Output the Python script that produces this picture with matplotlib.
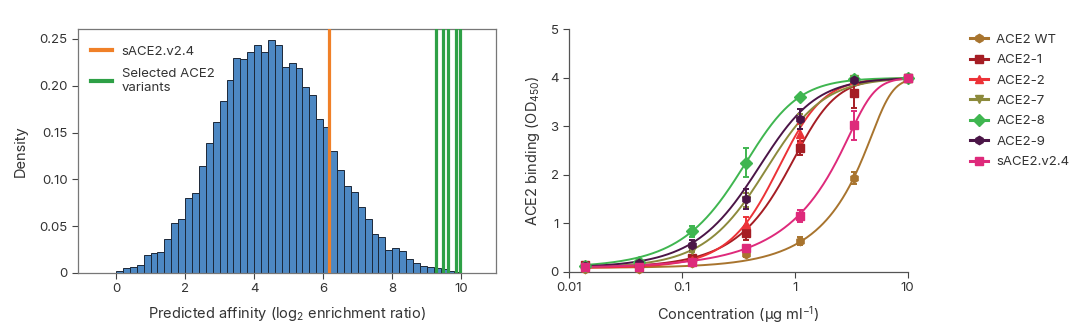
import numpy as np
import matplotlib
matplotlib.use("Agg")
import matplotlib.pyplot as plt
from matplotlib.lines import Line2D

plt.rcParams['font.family'] = ['Inter', 'DejaVu Sans']
plt.rcParams['mathtext.default'] = 'regular'
plt.rcParams['text.color'] = '#333333'
plt.rcParams['axes.labelcolor'] = '#333333'
plt.rcParams['xtick.color'] = '#444444'
plt.rcParams['ytick.color'] = '#444444'
plt.rcParams['xtick.labelcolor'] = '#333333'
plt.rcParams['ytick.labelcolor'] = '#333333'

# --- predicted affinity histogram (density per 0.2-wide bin, 0..10) ---
bin_edges = np.round(np.arange(0, 10.01, 0.2), 2)
density = [0.002, 0.005, 0.006, 0.009, 0.019, 0.021, 0.022, 0.036, 0.053, 0.058,
           0.080, 0.085, 0.114, 0.139, 0.161, 0.184, 0.206, 0.230, 0.229, 0.236,
           0.243, 0.236, 0.249, 0.244, 0.220, 0.224, 0.219, 0.199, 0.190, 0.165,
           0.156, 0.130, 0.110, 0.093, 0.086, 0.071, 0.058, 0.042, 0.038, 0.025,
           0.027, 0.024, 0.015, 0.011, 0.008, 0.006, 0.005, 0.004, 0.002, 0.001]
sace2_score = 6.18
selected_scores = [9.26, 9.47, 9.62, 9.85, 9.97]

# --- ELISA binding, 3-fold dilution series ---
conc = [0.0137, 0.0412, 0.123, 0.370, 1.11, 3.33, 10.0]
names = ['ACE2 WT', 'ACE2-1', 'ACE2-2', 'ACE2-7', 'ACE2-8', 'ACE2-9', 'sACE2.v2.4']
colors = ['#a8742e', '#a51d24', '#ec3237', '#8c8a3c', '#3fb650', '#4b1547', '#de2a7b']
markers = ['h', 's', '^', 'v', 'D', 'h', 's']
od_mean = [
    [0.06, 0.06, 0.17, 0.37, 0.63, 1.93, 4.00],
    [0.13, 0.15, 0.28, 0.80, 2.55, 3.68, 4.00],
    [0.10, 0.12, 0.25, 0.98, 2.85, 3.95, 4.00],
    [0.10, 0.13, 0.45, 1.48, 3.10, 3.98, 4.00],
    [0.12, 0.20, 0.83, 2.25, 3.60, 3.98, 4.00],
    [0.12, 0.18, 0.55, 1.50, 3.15, 3.95, 4.00],
    [0.10, 0.10, 0.20, 0.48, 1.15, 3.02, 4.00],
]
od_sd = [
    [0.03, 0.03, 0.04, 0.06, 0.08, 0.12, 0.03],
    [0.03, 0.03, 0.05, 0.15, 0.15, 0.30, 0.03],
    [0.03, 0.03, 0.05, 0.15, 0.20, 0.08, 0.03],
    [0.03, 0.03, 0.05, 0.15, 0.15, 0.05, 0.03],
    [0.03, 0.03, 0.12, 0.30, 0.05, 0.05, 0.03],
    [0.03, 0.03, 0.10, 0.20, 0.20, 0.05, 0.03],
    [0.03, 0.03, 0.04, 0.08, 0.12, 0.30, 0.03],
]
# 5-parameter logistic fit per construct
fit_bottom = 0.08
fit_top = 4.0
fit_ec50 = [6.4, 1.31, 0.858, 0.641, 0.48, 0.60, 4.32]
fit_hill = [5.7, 2.5, 2.3, 1.75, 1.97, 1.8, 4.65]
fit_asym = [0.2, 0.5, 0.7, 0.8, 0.6, 0.7, 0.2]


def logistic5(x, ec50, hill, asym):
    return fit_bottom + (fit_top - fit_bottom) / (1 + (ec50 / x) ** hill) ** asym


fig = plt.figure(figsize=(10.8, 3.33), dpi=100)
ax1 = fig.add_axes([0.0722, 0.1802, 0.387, 0.733])
ax2 = fig.add_axes([0.527, 0.184, 0.3133, 0.728])

# left panel
ax1.bar(bin_edges[:-1], density, width=0.2, align='edge', color='#4d88c3',
        edgecolor='#1c2838', linewidth=0.7, zorder=2)
ax1.axvline(sace2_score, color='#f08028', lw=2.3, zorder=3)
for s in selected_scores:
    ax1.axvline(s, color='#2ea046', lw=2.3, zorder=3)
ax1.set_xlim(-1.1, 11.0)
ax1.set_ylim(0, 0.2607)
ax1.set_xticks([0, 2, 4, 6, 8, 10])
ax1.set_yticks([0, 0.05, 0.10, 0.15, 0.20, 0.25])
ax1.set_yticklabels(['0', '0.05', '0.10', '0.15', '0.20', '0.25'])
ax1.tick_params(labelsize=9.5, length=4, width=0.8, direction='out')
for sp in ax1.spines.values():
    sp.set_color('#777777')
    sp.set_linewidth(0.9)
ax1.set_xlabel('Predicted affinity (log$_2$ enrichment ratio)', fontsize=10.5, labelpad=7)
ax1.set_ylabel('Density', fontsize=10.5, labelpad=8)
h1 = [Line2D([], [], color='#f08028', lw=3), Line2D([], [], color='#2ea046', lw=3)]
ax1.legend(h1, ['sACE2.v2.4', 'Selected ACE2\nvariants'], loc='upper left',
           bbox_to_anchor=(0.0, 0.985), frameon=False, fontsize=9.5,
           handlelength=1.6, handletextpad=0.7, labelspacing=0.75, borderaxespad=0.6)

# right panel
xs = np.logspace(np.log10(conc[0]), 1, 300)
handles = []
for i, name in enumerate(names):
    ax2.plot(xs, logistic5(xs, fit_ec50[i], fit_hill[i], fit_asym[i]),
             color=colors[i], lw=1.4, zorder=2)
    ax2.errorbar(conc, od_mean[i], yerr=od_sd[i], fmt='none', ecolor=colors[i],
                 elinewidth=1.4, capsize=2.5, capthick=1.4, zorder=3, clip_on=False)
    ax2.plot(conc, od_mean[i], ls='none', marker=markers[i], ms=6,
             color=colors[i], zorder=4, clip_on=False)
    handles.append(Line2D([], [], color=colors[i], lw=2.2, marker=markers[i], ms=6))

ax2.set_xscale('log')
ax2.set_xlim(0.01, 10)
ax2.set_ylim(0, 5)
ax2.set_xticks([0.01, 0.1, 1, 10])
ax2.set_xticklabels(['0.01', '0.1', '1', '10'])
ax2.minorticks_off()
ax2.set_yticks([0, 1, 2, 3, 4, 5])
ax2.tick_params(labelsize=9.5, length=4, width=0.8, direction='out')
ax2.spines['top'].set_visible(False)
ax2.spines['right'].set_visible(False)
for sp in ['left', 'bottom']:
    ax2.spines[sp].set_color('#555555')
    ax2.spines[sp].set_linewidth(0.9)
ax2.set_xlabel('Concentration (µg ml$^{-1}$)', fontsize=10.5, labelpad=7)
ax2.set_ylabel('ACE2 binding (OD$_{450}$)', fontsize=10.5, labelpad=6)
fig.legend(handles, names, loc='upper left', bbox_to_anchor=(0.887, 0.935),
           frameon=False, fontsize=9.5, handlelength=1.4, handletextpad=0.6,
           labelspacing=0.62)

fig.savefig('out.png', dpi=100)
